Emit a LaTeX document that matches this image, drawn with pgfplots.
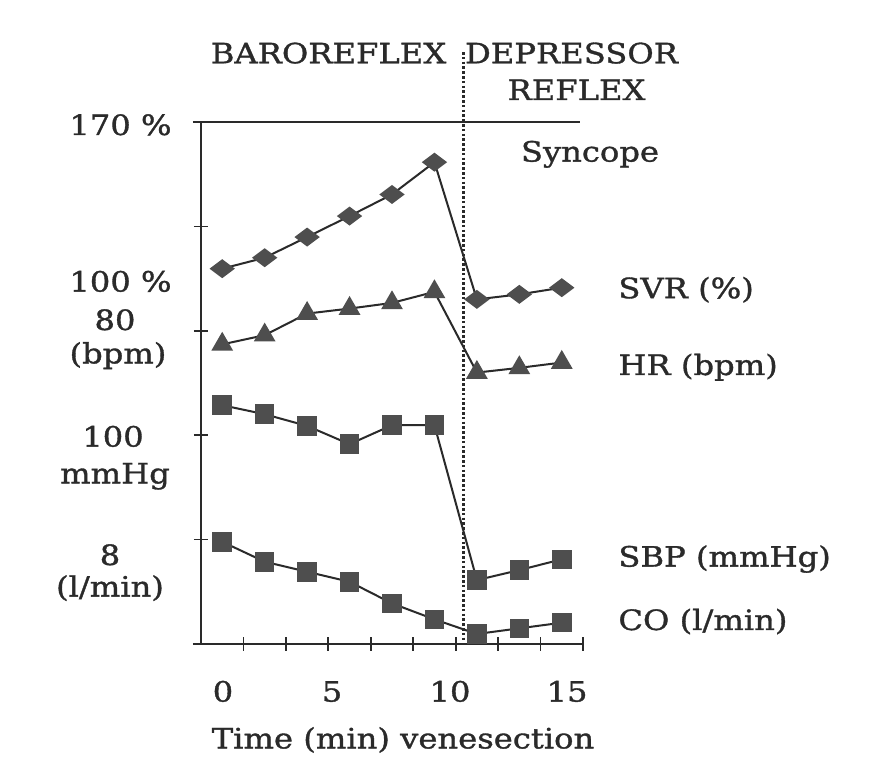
\documentclass[border=0pt]{standalone}
\usepackage{pgfplots}
\pgfplotsset{compat=1.18}
\usepackage{fontspec}
\setmainfont{DejaVu Serif}[FakeStretch=1.15, FakeBold=1.2]
\definecolor{ink}{HTML}{2A2A2A}
\definecolor{mk}{HTML}{4E4E4E}
\begin{document}
\begin{tikzpicture}
\useasboundingbox[fill=white] (0,0) rectangle (440pt,380pt);
\begin{axis}[
  at={(100.5pt,58pt)}, anchor=south west,
  width=191pt, height=261pt, scale only axis,
  xmin=-0.5, xmax=8.5, ymin=0, ymax=5,
  axis x line=bottom, axis y line=left,
  axis line style={line width=1pt, -, ink},
  xtick={0.5,1.5,...,8.5}, xticklabels={},
  ytick={1,2,3,4,5}, yticklabels={},
  tick align=center, major tick length=7pt,
  tick style={line width=0.9pt, ink},
  extra x ticks={0.018,2.587,5.367,8.124},
  extra x tick labels={0,5,10,15},
  extra x tick style={major tick length=0pt},
  xticklabel style={anchor=base, yshift=-28.8pt, text=ink, font=\fontsize{14}{16}\selectfont},
  clip=false,
]
\draw[ink, line width=1pt] (axis cs:-0.689,5) -- (axis cs:8.43,5);
\draw[ink, line width=1pt] (axis cs:-0.689,0) -- (axis cs:-0.5,0);
\draw[ink, line width=1.5pt, dash pattern=on 1.3pt off 1.1pt] (axis cs:5.673,5.67) -- (axis cs:5.673,0.04);
% SVR (%)
\addplot[ink, line width=1pt, mark=diamond*, mark size=5.5pt, mark options={rotate=90, fill=mk, draw=mk, solid}]
  coordinates {(0,3.595) (1,3.700) (2,3.898) (3,4.099) (4,4.306) (5,4.615) (6,3.301) (7,3.349) (8,3.413)};
% HR (bpm)
\addplot[ink, line width=1pt, mark=triangle*, mark size=5.3pt, mark options={fill=mk, draw=mk, solid}]
  coordinates {(0,2.870) (1,2.958) (2,3.165) (3,3.213) (4,3.267) (5,3.373) (6,2.600) (7,2.645) (8,2.696)};
% SBP (mmHg)
\addplot[ink, line width=1pt, mark=square*, mark size=4.4pt, mark options={fill=mk, draw=mk, solid}]
  coordinates {(0,2.287) (1,2.201) (2,2.089) (3,1.914) (4,2.096) (5,2.096) (6,0.612) (7,0.708) (8,0.811)};
% CO (l/min)
\addplot[ink, line width=1pt, mark=square*, mark size=4.4pt, mark options={fill=mk, draw=mk, solid}]
  coordinates {(0,0.979) (1,0.788) (2,0.692) (3,0.596) (4,0.389) (5,0.236) (6,0.096) (7,0.150) (8,0.204)};
\end{axis}
\begin{scope}[every node/.style={text=ink, font=\fontsize{14}{16}\selectfont, inner sep=0pt}]
\node[anchor=base] at (164.25pt,348.35pt) {BAROREFLEX};
\node[anchor=base] at (285.75pt,348.35pt) {DEPRESSOR};
\node[anchor=base] at (288.25pt,330pt) {REFLEX};
\node[anchor=base] at (295pt,299.2pt) {Syncope};
\node[anchor=base west] at (309pt,230.9pt) {SVR (\%)};
\node[anchor=base west] at (309pt,192.5pt) {HR (bpm)};
\node[anchor=base west] at (309pt,96.7pt) {SBP (mmHg)};
\node[anchor=base west] at (309pt,65pt) {CO (l/min)};
\node[anchor=base] at (60.25pt,312.5pt) {170 \%};
\node[anchor=base] at (60.25pt,234.2pt) {100 \%};
\node[anchor=base] at (57.5pt,215pt) {80};
\node[anchor=base] at (59pt,198.3pt) {(bpm)};
\node[anchor=base] at (56.5pt,156.7pt) {100};
\node[anchor=base] at (57.5pt,138.3pt) {mmHg};
\node[anchor=base] at (55pt,97.5pt) {8};
\node[anchor=base] at (55pt,81.7pt) {(l/min)};
\node[anchor=base] at (201.5pt,5.8pt) {Time (min) venesection};
\end{scope}
\end{tikzpicture}
\end{document}
